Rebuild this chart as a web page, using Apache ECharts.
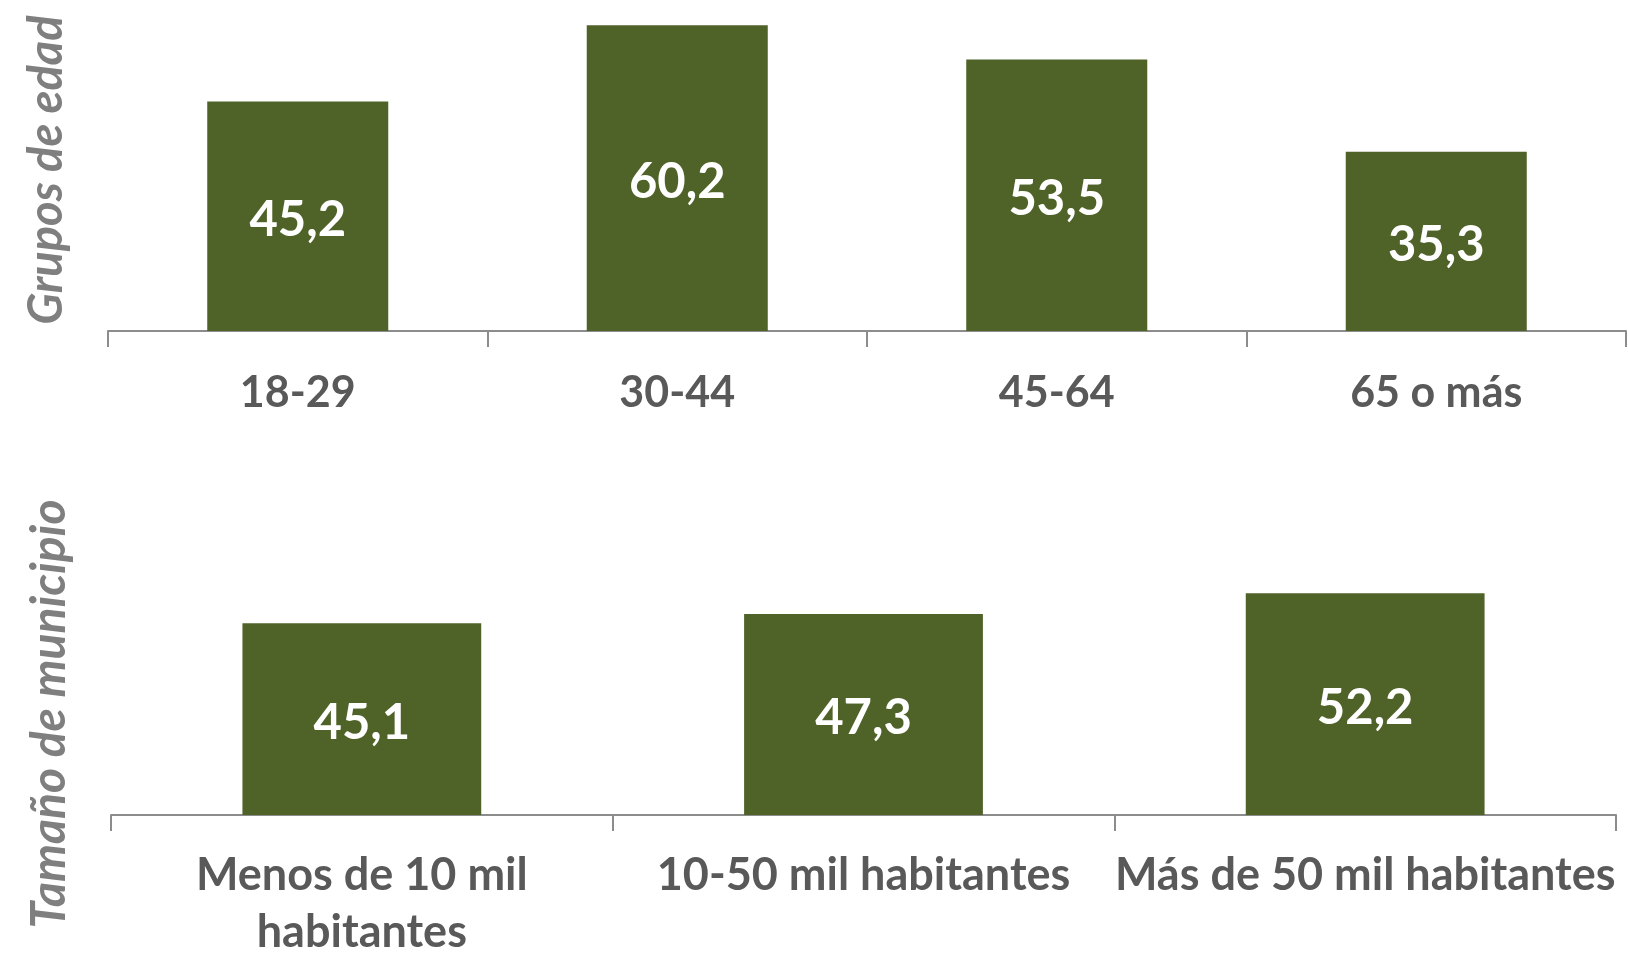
<!DOCTYPE html>
<html>
<head>
<meta charset="utf-8">
<title>Grupos de edad / Tamaño de municipio</title>
<script src="https://cdn.jsdelivr.net/npm/echarts@6/dist/echarts.min.js"></script>
<style>
  html, body { margin: 0; padding: 0; background: #fff; }
  #chart { width: 1628px; height: 956px; }
</style>
</head>
<body>
<div id="chart"></div>
<script>
// grupos de edad
const edadCats = ["18-29", "30-44", "45-64", "65 o más"];
const edadVals = [45.2, 60.2, 53.5, 35.3];
// tamaño de municipio
const muniCats = ["Menos de 10 mil\nhabitantes", "10-50 mil habitantes", "Más de 50 mil habitantes"];
const muniVals = [45.1, 47.3, 52.2];

const barColor = "#4f6228";
const axisColor = "#8c8c8c";
const labelColor = "#595959";
const nameColor = "#7f7f7f";
const font = "Lato";

// coma decimal
function fmt(params) {
  return params.value.toFixed(1).replace(".", ",");
}

function catAxis(gridIndex, data, size, margin) {
  return {
    type: "category",
    gridIndex: gridIndex,
    data: data,
    axisLine: { lineStyle: { color: axisColor, width: 2 } },
    axisTick: { show: true, length: 16, lineStyle: { color: axisColor, width: 2 } },
    axisLabel: {
      interval: 0,
      margin: margin,
      color: labelColor,
      fontFamily: font,
      fontWeight: "bold",
      fontSize: size,
      lineHeight: 57,
    },
  };
}

function valAxis(gridIndex, max) {
  return {
    type: "value",
    gridIndex: gridIndex,
    min: 0,
    max: max,
    show: false,
    splitLine: { show: false },
  };
}

function barSeries(idx, data, width) {
  return {
    type: "bar",
    xAxisIndex: idx,
    yAxisIndex: idx,
    data: data,
    barWidth: width,
    itemStyle: { color: barColor },
    label: {
      show: true,
      position: "inside",
      offset: [0, 4],
      formatter: fmt,
      color: "#fff",
      fontFamily: font,
      fontWeight: "bold",
      fontSize: 49,
    },
    silent: true,
  };
}

const chart = echarts.init(document.getElementById("chart"), null, { renderer: "canvas" });
const option = {
  animation: false,
  backgroundColor: "#fff",
  // posiciones fijas, sin reajuste por etiquetas
  grid: [
    { left: 108, right: 2, top: 1, height: 330, outerBoundsMode: "none", containLabel: false },
    { left: 111, right: 12, top: 560, height: 255, outerBoundsMode: "none", containLabel: false },
  ],
  xAxis: [catAxis(0, edadCats, 43, 34), catAxis(1, muniCats, 45, 32)],
  yAxis: [valAxis(0, 65), valAxis(1, 60)],
  series: [barSeries(0, edadVals, "47.7%"), barSeries(1, muniVals, "47.6%")],
  graphic: [
    {
      type: "text",
      x: 47,
      y: 170,
      rotation: Math.PI / 2,
      style: {
        text: "Grupos de edad",
        font: "italic bold 47px Lato",
        fill: nameColor,
        align: "center",
        verticalAlign: "middle",
      },
    },
    {
      type: "text",
      x: 50,
      y: 714,
      rotation: Math.PI / 2,
      style: {
        text: "Tamaño de municipio",
        font: "italic bold 48px Lato",
        fill: nameColor,
        align: "center",
        verticalAlign: "middle",
      },
    },
  ],
};
chart.setOption(option);
</script>
</body>
</html>
